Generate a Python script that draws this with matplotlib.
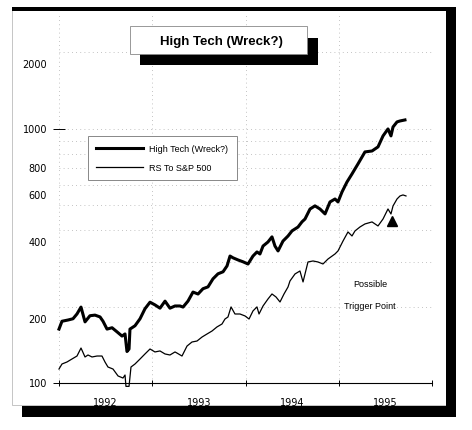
import numpy as np
import matplotlib.pyplot as plt
import matplotlib.transforms as mtransforms
from matplotlib.patches import Rectangle

tech_jahr = [1992.000, 1992.032, 1992.097, 1992.150, 1992.193, 1992.236, 1992.279, 1992.332, 1992.386, 1992.440,
             1992.472, 1992.515, 1992.569, 1992.622, 1992.676, 1992.708, 1992.729, 1992.751, 1992.761, 1992.815,
             1992.869, 1992.922, 1992.976, 1993.029, 1993.083, 1993.137, 1993.190, 1993.244, 1993.298, 1993.330,
             1993.383, 1993.437, 1993.491, 1993.544, 1993.598, 1993.651, 1993.705, 1993.759, 1993.802, 1993.834,
             1993.866, 1993.920, 1993.973, 1994.027, 1994.080, 1994.123, 1994.155, 1994.188, 1994.241, 1994.284,
             1994.316, 1994.349, 1994.402, 1994.456, 1994.499, 1994.563, 1994.606, 1994.638, 1994.692, 1994.745,
             1994.799, 1994.853, 1994.906, 1994.960, 1994.992, 1995.035, 1995.088, 1995.142, 1995.174, 1995.206,
             1995.281, 1995.357, 1995.421, 1995.475, 1995.528, 1995.560, 1995.582, 1995.625, 1995.657, 1995.710]
tech_wert = [163, 175, 177, 179, 187, 199, 174, 184, 185, 182,
             175, 163, 165, 159, 153, 156, 133, 136, 163, 168,
             179, 196, 208, 203, 197, 210, 197, 201, 201, 199,
             210, 228, 224, 235, 239, 257, 269, 274, 289, 316,
             311, 305, 300, 294, 316, 328, 322, 346, 359, 376,
             346, 331, 362, 379, 397, 411, 431, 442, 484, 498,
             484, 463, 516, 530, 516, 565, 618, 665, 696, 728,
             812, 819, 850, 939, 1000, 939, 1018, 1066, 1075, 1085]

# RS To S&P 500
rs_jahr = [1992.000, 1992.032, 1992.086, 1992.139, 1992.193, 1992.236, 1992.279, 1992.311, 1992.354, 1992.408,
           1992.461, 1992.493, 1992.525, 1992.579, 1992.633, 1992.686, 1992.708, 1992.718, 1992.751, 1992.772,
           1992.815, 1992.869, 1992.922, 1992.976, 1993.029, 1993.083, 1993.137, 1993.190, 1993.244, 1993.265,
           1993.319, 1993.373, 1993.426, 1993.480, 1993.534, 1993.587, 1993.641, 1993.694, 1993.748, 1993.780,
           1993.812, 1993.845, 1993.887, 1993.941, 1993.995, 1994.038, 1994.080, 1994.123, 1994.145, 1994.188,
           1994.241, 1994.284, 1994.327, 1994.370, 1994.413, 1994.456, 1994.477, 1994.531, 1994.584, 1994.617,
           1994.670, 1994.724, 1994.777, 1994.831, 1994.885, 1994.960, 1994.992, 1995.046, 1995.099, 1995.142,
           1995.174, 1995.228, 1995.281, 1995.357, 1995.421, 1995.475, 1995.528, 1995.560, 1995.582, 1995.625,
           1995.657, 1995.689, 1995.721]
rs_wert = [113.5, 118.8, 121.0, 124.3, 127.7, 137.3, 126.6, 128.9, 126.6, 127.7,
           127.7, 121.0, 115.6, 113.5, 106.6, 104.6, 107.5, 97.0, 97.0, 115.6,
           118.8, 124.3, 130.1, 136.1, 132.5, 133.7, 130.1, 128.9, 132.5, 131.2,
           127.7, 139.8, 145.0, 146.3, 151.7, 155.9, 160.2, 166.2, 170.7, 178.6,
           181.9, 199.3, 186.9, 186.9, 183.6, 178.6, 192.1, 199.3, 186.9, 201.0,
           214.1, 224.1, 218.1, 208.4, 224.1, 238.8, 252.1, 268.7, 276.0, 249.9,
           299.5, 302.2, 299.5, 294.1, 307.7, 322.1, 331.0, 362.3, 393.1, 379.1,
           396.7, 411.4, 422.7, 430.5, 415.1, 442.3, 484.2, 462.8, 497.6, 530.2,
           544.8, 549.8, 544.8]

jahre = [1992, 1993, 1994, 1995]
y_ticks = [100, 200, 400, 600, 800, 1000, 2000]
# Beschriftungen sitzen im Original etwas unter den Gitterlinien (Pixel)
y_versatz = {100: 0, 200: 12, 400: 12, 600: 10, 800: 14, 1000: 0, 2000: 12}
gitter_y = [200, 300, 400, 500, 600, 700, 800, 900, 1000, 2000]

trigger_jahr, trigger_wert = 1995.571, 434

W, H = 472, 431
fig = plt.figure(figsize=(W / 100, H / 100), dpi=100)


def fx(x):
    return x / W


def fy(y):
    return 1 - y / H


def rect(x0, y0, x1, y1, **kw):
    r = Rectangle((fx(x0), fy(y1)), fx(x1) - fx(x0), fy(y0) - fy(y1),
                  transform=fig.transFigure, **kw)
    fig.add_artist(r)
    return r


# Rahmen mit Schatten
rect(12, 10, 446, 406, facecolor='white', edgecolor='#bbbbbb', linewidth=0.6, zorder=-1)
rect(12, 8, 456, 11.5, facecolor='black', edgecolor='none', zorder=10)
rect(446, 8, 456, 418, facecolor='black', edgecolor='none', zorder=10)
rect(22, 407, 456, 418, facecolor='black', edgecolor='none', zorder=10)

ax = fig.add_axes([fx(59), fy(384), fx(432) - fx(59), fy(14) - fy(384)])
ax.set_facecolor('none')
ax.set_yscale('log')
ax.set_xlim(1992, 1996)
ax.set_ylim(100, 2860)

gitter = dict(color='#b0b0b0', linestyle=(0, (1, 4)), linewidth=0.6, zorder=0)
for g in gitter_y:
    ax.axhline(g, **gitter)
for j in jahre + [1996]:
    ax.axvline(j, **gitter)

ax.plot(tech_jahr, tech_wert, color='black', linewidth=2.2, label='High Tech (Wreck?)', clip_on=False, zorder=3)
ax.plot(rs_jahr, rs_wert, color='black', linewidth=0.9, label='RS To S&P 500', clip_on=False, zorder=3)
ax.plot([trigger_jahr], [trigger_wert], marker='^', color='black', markersize=7, linestyle='none')

ax.text(1995.335, 247, 'Possible', ha='center', va='center', fontsize=6.5, family='Liberation Sans')
ax.text(1995.335, 201, 'Trigger Point', ha='center', va='center', fontsize=6.5, family='Liberation Sans',
        bbox=dict(facecolor='white', edgecolor='none', pad=1))

for s in ['top', 'right', 'left']:
    ax.spines[s].set_visible(False)
ax.spines['bottom'].set_linewidth(0.8)

# x-Achse: Striche an Jahresgrenzen, Beschriftung mittig
ax.set_xticks(jahre + [1996])
ax.set_xticklabels([])
ax.set_xticks([j + 0.5 for j in jahre], minor=True)
ax.set_xticklabels([str(j) for j in jahre], minor=True, fontsize=7, family='DejaVu Sans')
ax.tick_params(axis='x', which='major', direction='inout', length=4, width=0.7)
ax.tick_params(axis='x', which='minor', length=0, pad=10)

# y-Achse: Beschriftung von Hand, leicht versetzt wie im Original
ax.set_yticks([100, 1000])
ax.set_yticks([], minor=True)
ax.set_yticklabels([])
ax.tick_params(axis='y', which='major', direction='inout', length=8, width=0.7)
for v in y_ticks:
    tr = ax.get_yaxis_transform() + mtransforms.ScaledTranslation(-0.12, -y_versatz[v] / 100, fig.dpi_scale_trans)
    ax.text(0, v, str(v), transform=tr, ha='right', va='center', fontsize=7, family='DejaVu Sans')

leg = ax.legend(loc='upper left', bbox_to_anchor=(fx(88), fy(137)), bbox_transform=fig.transFigure,
                borderaxespad=0, fancybox=False, edgecolor='#888888', framealpha=1,
                prop={'family': 'Liberation Sans', 'size': 6.5}, handlelength=5.2,
                handletextpad=0.7, labelspacing=1.1, borderpad=0.9)
leg.get_frame().set_linewidth(0.7)

# Titelkasten mit Schatten
rect(140, 39, 318, 66, facecolor='black', edgecolor='none', zorder=10)
rect(130, 27, 307, 55, facecolor='white', edgecolor='#888888', linewidth=0.6, zorder=11)
fig.text(fx(221), fy(42), 'High Tech (Wreck?)', ha='center', va='center', fontsize=9.5,
         fontweight='bold', family='Liberation Sans', zorder=12)

fig.savefig('out.png', dpi=100)
